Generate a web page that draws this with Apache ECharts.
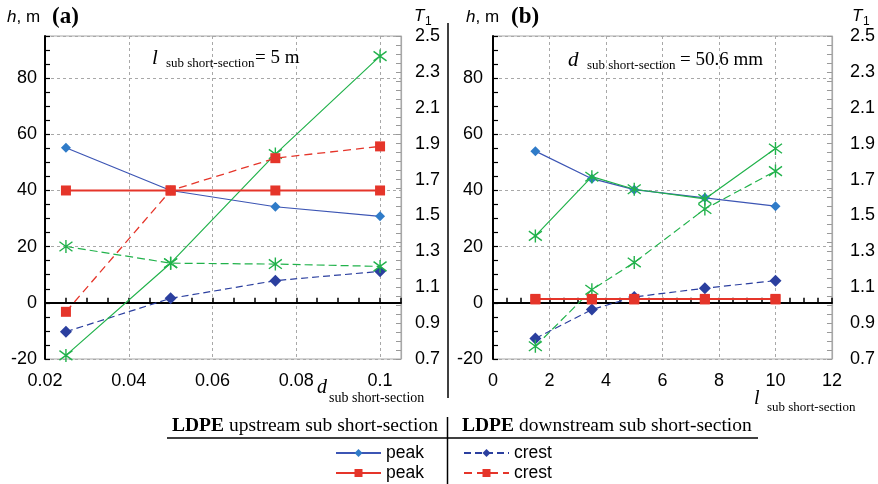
<!DOCTYPE html>
<html>
<head>
<meta charset="utf-8">
<script src="https://cdn.jsdelivr.net/npm/echarts@6/dist/echarts.min.js"></script>
<style>
html,body{margin:0;padding:0;background:#fff;}
#chart{width:878px;height:484px;}
</style>
</head>
<body>
<div id="chart"></div>
<script>
// ---- data ----
const xLeft = [0.025, 0.05, 0.075, 0.1];
const leftPeakBlue = [55.2, 40.0, 34.2, 30.8];
const leftPeakRed = [40, 40, 40, 40];
const leftCrestBlue = [-10.3, 1.6, 7.9, 11.2];
const leftCrestRed = [-3.2, 40.0, 51.5, 55.7];
const leftT1Solid = [0.72, 1.234, 1.842, 2.388];
const leftT1Dashed = [1.327, 1.234, 1.229, 1.216];

const xRight = [1.5, 3.5, 5, 7.5, 10];
const rightPeakBlue = [54.0, 44.2, 40.3, 37.4, 34.4];
const rightPeakRed = [1.4, 1.4, 1.4, 1.4, 1.4];
const rightCrestBlue = [-12.7, -2.4, 2.1, 5.2, 7.9];
const rightCrestRed = [1.2, 1.2, 1.2, 1.2, 1.2];
const rightT1Solid = [1.386, 1.716, 1.646, 1.592, 1.873];
const rightT1Dashed = [0.771, 1.086, 1.238, 1.536, 1.747];

const leftXTicks = [0.02, 0.04, 0.06, 0.08, 0.1];
const rightXTicks = [0, 2, 4, 6, 8, 10, 12];
const hTicks = [-20, 0, 20, 40, 60, 80];
const t1Ticks = [0.7, 0.9, 1.1, 1.3, 1.5, 1.7, 1.9, 2.1, 2.3, 2.5];

// ---- styling ----
const SANS = 'Liberation Sans';
const SERIF = 'Liberation Serif';
const BLUE_L = '#3c55b4', BLUE_M = '#2f7bc8';
const BLUE_D = '#2b3f9f';
const RED = '#e5352a';
const GREEN = '#21b24b';
const GRAY = '#a8a8a8';
const ASTER = 'path://M-4,-4L4,4M-4,4L4,-4M0,-5.5L0,5.5';

const pairs = (xs, ys) => xs.map((x, i) => [x, ys[i]]);

function buildSeries(xs, pb, pr, cb, cr, ts, td, xi, yh, yt) {
  return [
    { name: 'peak_blue', type: 'line', xAxisIndex: xi, yAxisIndex: yh, data: pairs(xs, pb),
      symbol: 'diamond', symbolSize: 10, itemStyle: { color: BLUE_M },
      lineStyle: { color: BLUE_L, width: 1.2 }, z: 3 },
    { name: 'crest_blue', type: 'line', xAxisIndex: xi, yAxisIndex: yh, data: pairs(xs, cb),
      symbol: 'diamond', symbolSize: 12, itemStyle: { color: BLUE_D },
      lineStyle: { color: BLUE_D, width: 1.2, type: [7, 4] }, z: 3 },
    { name: 'T1_solid', type: 'line', xAxisIndex: xi, yAxisIndex: yt, data: pairs(xs, ts),
      symbol: ASTER, symbolSize: 13, itemStyle: { color: 'none', borderColor: GREEN, borderWidth: 1.4 },
      lineStyle: { color: GREEN, width: 1.2 }, z: 4 },
    { name: 'T1_dashed', type: 'line', xAxisIndex: xi, yAxisIndex: yt, data: pairs(xs, td),
      symbol: ASTER, symbolSize: 13, itemStyle: { color: 'none', borderColor: GREEN, borderWidth: 1.4 },
      lineStyle: { color: GREEN, width: 1.2, type: [8, 4] }, z: 4 },
    { name: 'crest_red', type: 'line', xAxisIndex: xi, yAxisIndex: yh, data: pairs(xs, cr),
      symbol: 'rect', symbolSize: 10, itemStyle: { color: RED },
      lineStyle: { color: RED, width: 1.3, type: [8, 5] }, z: 5 },
    { name: 'peak_red', type: 'line', xAxisIndex: xi, yAxisIndex: yh, data: pairs(xs, pr),
      symbol: 'rect', symbolSize: 10, itemStyle: { color: RED },
      lineStyle: { color: RED, width: 2 }, z: 5 }
  ];
}

const labelStyle = { fontFamily: SANS, fontSize: 18, color: '#000' };
const legendText = { fontFamily: SANS, fontSize: 17.5, color: '#000' };

function bottomAxis(grid, min, max, ticks, showMax) {
  return { type: 'value', gridIndex: grid, position: 'bottom', min: min, max: max,
    interval: ticks[1] - ticks[0],
    axisLine: { show: false, onZero: false }, axisTick: { show: false },
    axisLabel: Object.assign({ margin: 13, showMaxLabel: showMax, showMinLabel: true,
      formatter: v => String(+v.toFixed(3)) }, labelStyle),
    splitLine: { show: true, lineStyle: { color: GRAY, type: [3, 3], width: 1 } } };
}
function zeroAxis(grid, min, max, interval, yIdx) {
  return { type: 'value', gridIndex: grid, position: 'bottom', min: min, max: max, interval: interval,
    axisLine: { show: true, onZero: true, onZeroAxisIndex: yIdx, lineStyle: { color: '#000', width: 2 } },
    axisTick: { show: true, inside: true, length: 5, lineStyle: { color: '#000', width: 1.5 } },
    axisLabel: { show: false }, splitLine: { show: false } };
}
function hAxis(grid, margin) {
  return { type: 'value', gridIndex: grid, position: 'left', min: hTicks[0], max: 95, interval: 5,
    axisLine: { show: true, onZero: false, lineStyle: { color: '#000', width: 2 } },
    axisTick: { show: true, inside: true, length: 5, lineStyle: { color: '#000', width: 1.2 } },
    axisLabel: Object.assign({ margin: margin,
      formatter: v => (hTicks.indexOf(Math.round(v * 1000) / 1000) >= 0 ? String(v) : '') }, labelStyle),
    splitLine: { show: false } };
}
function hGridAxis(grid) {
  return { type: 'value', gridIndex: grid, position: 'left', min: hTicks[0], max: 95,
    interval: hTicks[1] - hTicks[0],
    axisLine: { show: false, onZero: false }, axisTick: { show: false }, axisLabel: { show: false },
    splitLine: { show: true, lineStyle: { color: GRAY, type: [3, 3], width: 1 } } };
}
function t1Axis(grid, margin) {
  return { type: 'value', gridIndex: grid, position: 'right', min: t1Ticks[0], max: t1Ticks[t1Ticks.length - 1],
    interval: 0.05,
    axisLine: { show: true, onZero: false, lineStyle: { color: GRAY, width: 1.2 } },
    axisTick: { show: true, inside: true, length: 5, lineStyle: { color: '#999', width: 1 } },
    axisLabel: Object.assign({ margin: margin,
      formatter: v => { const r = Math.round(v * 100) / 100;
        return t1Ticks.some(t => Math.abs(t - r) < 1e-6) ? r.toFixed(1) : ''; } }, labelStyle),
    splitLine: { show: false } };
}

const txt = (x, y, text, font, extra) => ({ type: 'text', x: x, y: y, z: 50,
  style: Object.assign({ text: text, font: font, fill: '#000', align: 'left', verticalAlign: 'middle' }, extra || {}) });
const line = (x1, y1, x2, y2, w) => ({ type: 'line', z: 50, shape: { x1: x1, y1: y1, x2: x2, y2: y2 },
  style: { stroke: '#000', lineWidth: w } });

const chart = echarts.init(document.getElementById('chart'), null, { renderer: 'canvas' });
chart.setOption({
  animation: false,
  backgroundColor: '#fff',
  grid: [
    { left: 45, top: 36, width: 356, height: 323, show: true, borderColor: GRAY, borderWidth: 1, containLabel: false },
    { left: 493, top: 36, width: 342, height: 323, show: true, borderColor: GRAY, borderWidth: 1, containLabel: false }
  ],
  xAxis: [
    bottomAxis(0, 0.02, 0.105, leftXTicks, false),
    zeroAxis(0, 0.02, 0.105, 0.005, 0),
    bottomAxis(1, rightXTicks[0], rightXTicks[rightXTicks.length - 1], rightXTicks, true),
    zeroAxis(1, rightXTicks[0], rightXTicks[rightXTicks.length - 1], 0.5, 3)
  ],
  yAxis: [
    hAxis(0, 8), t1Axis(0, 14), hGridAxis(0),
    hAxis(1, 10), t1Axis(1, 18), hGridAxis(1)
  ],
  legend: [
    { data: ['peak_blue', 'peak_red'], orient: 'vertical', left: 335, top: 444, itemWidth: 45, itemHeight: 10,
      itemGap: 2, formatter: () => 'peak', selectedMode: false, textStyle: legendText, padding: 0 },
    { data: ['crest_blue', 'crest_red'], orient: 'vertical', left: 463, top: 444, itemWidth: 45, itemHeight: 10,
      itemGap: 2, formatter: () => 'crest', selectedMode: false, textStyle: legendText, padding: 0 }
  ],
  series: [].concat(
    buildSeries(xLeft, leftPeakBlue, leftPeakRed, leftCrestBlue, leftCrestRed, leftT1Solid, leftT1Dashed, 0, 0, 1),
    buildSeries(xRight, rightPeakBlue, rightPeakRed, rightCrestBlue, rightCrestRed, rightT1Solid, rightT1Dashed, 2, 3, 4)
  ),
  graphic: [
    // panel titles
    txt(7, 17, '{i|h}, m', '17px ' + SANS, { rich: { i: { fontStyle: 'italic', fontFamily: SANS, fontSize: 17 } } }),
    txt(52, 17, '(a)', 'bold 23px ' + SERIF),
    txt(414, 16, 'T', 'italic 17px ' + SANS),
    txt(425, 22, '1', '12px ' + SANS),
    txt(466, 17, '{i|h}, m', '17px ' + SANS, { rich: { i: { fontStyle: 'italic', fontFamily: SANS, fontSize: 17 } } }),
    txt(511, 17, '(b)', 'bold 23px ' + SERIF),
    txt(852, 16, 'T', 'italic 17px ' + SANS),
    txt(863, 22, '1', '12px ' + SANS),
    // annotations
    txt(152, 58, 'l', 'italic 21px ' + SERIF),
    txt(166, 64, 'sub short-section', '13px ' + SERIF),
    txt(255, 58, '= 5 m', '19px ' + SERIF),
    txt(568, 60, 'd', 'italic 21px ' + SERIF),
    txt(587, 66, 'sub short-section', '13px ' + SERIF),
    txt(680, 60, '= 50.6 mm', '19px ' + SERIF),
    // x axis titles
    txt(317, 388, 'd', 'italic 20px ' + SERIF),
    txt(329, 398, 'sub short-section', '14px ' + SERIF),
    txt(754, 399, 'l', 'italic 20px ' + SERIF),
    txt(767, 408, 'sub short-section', '13px ' + SERIF),
    // separators
    line(448, 23, 448, 398, 1.5),
    line(447.5, 417, 447.5, 484, 1.5),
    line(167, 438, 758, 438, 1.5),
    // legend header
    txt(172, 426, '{b|LDPE} upstream sub short-section', '19.5px ' + SERIF,
      { rich: { b: { fontWeight: 'bold', fontFamily: SERIF, fontSize: 19.5 } } }),
    txt(462, 426, '{b|LDPE} downstream sub short-section', '19.5px ' + SERIF,
      { rich: { b: { fontWeight: 'bold', fontFamily: SERIF, fontSize: 19.5 } } })
  ]
});
</script>
</body>
</html>
